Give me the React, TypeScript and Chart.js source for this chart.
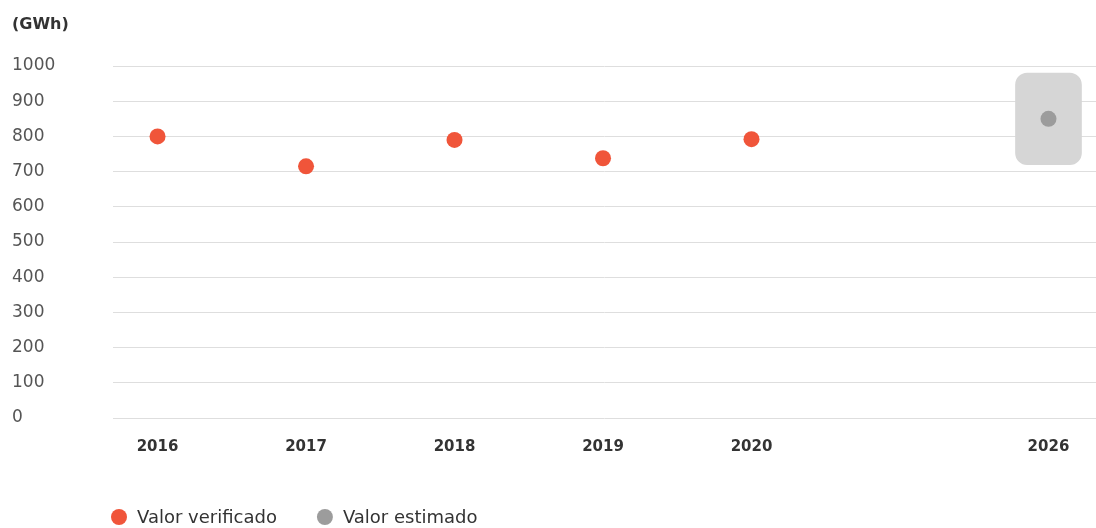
import React, { useEffect, useRef } from 'react';
import { Chart, registerables } from 'chart.js';

Chart.register(...registerables);

// ---- data ----
const slotLabels = ['2016', '2017', '2018', '2019', '2020', '', '2026'];
const verifiedYears = ['2016', '2017', '2018', '2019', '2020'];
const verifiedValues = [800, 715, 790, 738, 792];
const estimatedYears = ['2026'];
const estimatedValues = [850];
const estimatedLow = [720];
const estimatedHigh = [980];
const seriesNames = ['Valor verificado', 'Valor estimado'];
const unitLabel = '(GWh)';

const ORANGE = '#F0553A';
const GRAY_DOT = '#9c9c9c';
const GRAY_BAND = '#d6d6d6';
const FONT = '"DejaVu Sans", sans-serif';

const slotOf = (y: string) => slotLabels.indexOf(y);

const overlayPlugin = {
  id: 'overlay',
  afterDraw(chart: any) {
    const ctx = chart.ctx as CanvasRenderingContext2D;
    ctx.save();
    ctx.textAlign = 'left';
    ctx.textBaseline = 'middle';
    ctx.fillStyle = '#333';
    ctx.font = `bold 16px ${FONT}`;
    ctx.fillText(unitLabel, 12, 25);

    const items = [
      { text: seriesNames[0], color: chart.data.datasets[0].backgroundColor },
      { text: seriesNames[1], color: chart.data.datasets[1].backgroundColor },
    ];
    let x = 111;
    const y = 517;
    ctx.font = `18px ${FONT}`;
    items.forEach((it) => {
      ctx.beginPath();
      ctx.arc(x + 8, y, 8, 0, Math.PI * 2);
      ctx.fillStyle = it.color;
      ctx.fill();
      ctx.fillStyle = '#333';
      ctx.fillText(it.text, x + 26, y + 1);
      x += 26 + ctx.measureText(it.text).width + 40;
    });
    ctx.restore();
  },
};

export default function App() {
  const ref = useRef<HTMLCanvasElement | null>(null);

  useEffect(() => {
    document.body.style.margin = '0';
    const canvas = ref.current;
    if (!canvas) return;
    const tickPositions = slotLabels
      .map((l, i) => (l ? i : -1))
      .filter((i) => i >= 0);

    const chart = new Chart(canvas, {
      type: 'scatter',
      data: {
        datasets: [
          {
            label: seriesNames[0],
            data: verifiedYears.map((y, i) => ({ x: slotOf(y), y: verifiedValues[i] })),
            backgroundColor: ORANGE,
            borderColor: ORANGE,
            pointRadius: 8,
            pointHoverRadius: 8,
            borderWidth: 0,
            order: 1,
          },
          {
            label: seriesNames[1],
            data: estimatedYears.map((y, i) => ({ x: slotOf(y), y: estimatedValues[i] })),
            backgroundColor: GRAY_DOT,
            borderColor: GRAY_DOT,
            pointRadius: 8,
            pointHoverRadius: 8,
            borderWidth: 0,
            order: 1,
          },
          {
            type: 'bar',
            label: 'range',
            data: estimatedYears.map((y, i) => ({ x: slotOf(y), y: [estimatedLow[i], estimatedHigh[i]] })),
            backgroundColor: GRAY_BAND,
            borderWidth: 0,
            borderRadius: 12,
            borderSkipped: false,
            barThickness: 66,
            order: 2,
          } as any,
        ],
      },
      options: {
        animation: false,
        responsive: true,
        maintainAspectRatio: false,
        layout: { autoPadding: false, padding: { top: 66, left: 12, right: 0, bottom: 0 } },
        plugins: {
          legend: { display: false },
          tooltip: { enabled: false },
        },
        scales: {
          x: {
            type: 'linear',
            min: -0.3,
            max: 6.32,
            offset: false,
            grid: { display: false, drawTicks: false },
            border: { display: false },
            afterBuildTicks: (scale: any) => {
              scale.ticks = tickPositions.map((v) => ({ value: v }));
            },
            afterFit: (scale: any) => {
              scale.height = 110;
            },
            ticks: {
              autoSkip: false,
              maxRotation: 0,
              padding: 20,
              color: '#333',
              font: { family: FONT, size: 15, weight: 'bold' },
              callback: (v: any) => slotLabels[Math.round(Number(v))] ?? '',
            },
          },
          y: {
            type: 'linear',
            min: 0,
            max: 1000,
            grid: { color: '#dedede', lineWidth: 1, drawTicks: false },
            border: { display: false },
            afterFit: (scale: any) => {
              scale.width = 101;
            },
            ticks: {
              stepSize: 100,
              crossAlign: 'far',
              color: '#555',
              font: { family: FONT, size: 17 },
              callback: (v: any) => String(v),
            },
          },
        },
      } as any,
      plugins: [overlayPlugin],
    });
    return () => chart.destroy();
  }, []);

  return (
    <div style={{ position: 'relative', width: '1096px', height: '528px' }}>
      <canvas ref={ref} />
    </div>
  );
}
